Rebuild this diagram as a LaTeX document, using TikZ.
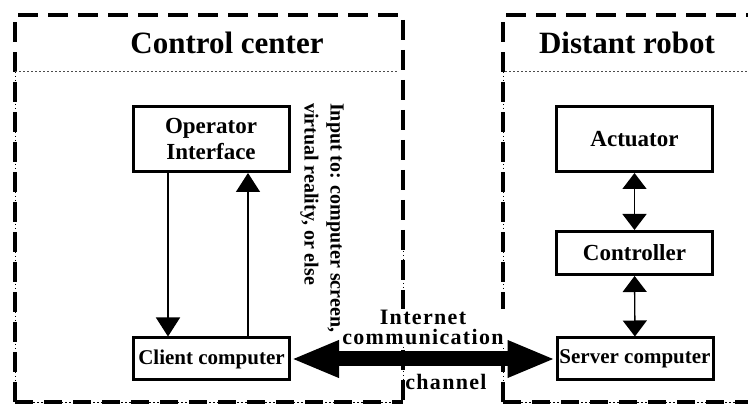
\documentclass[tikz,border=0pt]{standalone}
\usepackage{fontspec}
\setmainfont{Liberation Serif}
\usetikzlibrary{arrows.meta}

\begin{document}
\begin{tikzpicture}[x=1pt,y=-1pt,
  title/.style={font=\fontsize{31}{34}\selectfont\bfseries, inner sep=0pt},
  unit/.style={draw, line width=3pt, font=\fontsize{23}{26}\selectfont\bfseries,
    align=center, inner sep=0pt, minimum width=156pt},
  pcbox/.style={unit, font=\fontsize{21}{24}\selectfont\bfseries, minimum height=42pt},
  heavydash/.style={line width=4pt, dash pattern=on 20pt off 10pt},
  dashdots/.style={line width=4pt, dash pattern=on 18pt off 11pt},
  thindots/.style={line width=0.9pt, dash pattern=on 1.5pt off 2.5pt},
  sepline/.style={line width=0.8pt, dash pattern=on 1.5pt off 2.5pt, black!70},
  flow/.style={line width=1.4pt, -{Triangle[length=19pt 0 0, width=24pt 0 0]}},
  dflow/.style={line width=1.4pt, {Triangle[length=16pt 0 0, width=24pt 0 0]}-{Triangle[length=16pt 0 0, width=24pt 0 0]}},
  link/.style={line width=15pt, {Triangle[length=48pt 0 0, width=34pt 0 0]}-{Triangle[length=48pt 0 0, width=34pt 0 0]}},
  note/.style={font=\fontsize{20}{26}\selectfont\bfseries, inner sep=0pt, align=left},
  chan/.style={font=\fontsize{22}{20}\selectfont\bfseries\addfontfeature{LetterSpace=6}, inner sep=1pt, align=center}
]
\useasboundingbox (0,0) rectangle (748,406);
\fill[white] (0,0) rectangle (748,406);

% corner points of the two frames
\coordinate (ccNW) at (15,15);
\coordinate (ccNE) at (403,15);
\coordinate (ccSE) at (403,402);
\coordinate (ccSW) at (15,402);
\coordinate (rbNW) at (503,15);
\coordinate (rbNE) at (748,15);
\coordinate (rbSW) at (503,402);
\coordinate (rbSE) at (748,402);

% control center frame
\draw[thindots] (ccNW |- 0,72) -- (ccSW) -- (ccSE);
\draw[thindots] (403,235) -- (ccSE);
\draw[heavydash] (ccSW) -- (ccNW) -- (ccNE) -- (ccSE);
\draw[dashdots] (ccSW) -- (ccSE);

% distant robot frame
\draw[thindots] (503,72) -- (rbSW) -- (rbSE);
\draw[heavydash] (rbSW) -- (rbNW) -- (rbNE);
\draw[dashdots] (rbSW) -- (rbSE);

% header separators
\draw[sepline] (15,71) -- (398,71);
\draw[sepline] (505,71) -- (748,71);

% headings
\node[title] (tcc) at (227,43) {Control center};
\node[title] (trb) at (627,43) {Distant robot};

% control center blocks
\node[unit, minimum height=65pt] (oi) at (211,139) {Operator\\Interface};
\node[pcbox] (cc) at (211.5,359) {Client computer};

\draw[flow] (oi.south -| 168,0) -- (cc.north -| 168,0);
\draw[flow] (cc.north -| 248,0) -- (oi.south -| 248,0);

\node[note, rotate=-90, anchor=north west] (inp) at (344,103)
  {Input to: computer screen,\\virtual reality, or else};

% distant robot blocks
\node[unit, minimum height=65pt] (act) at (634.5,139) {Actuator};
\node[unit, minimum height=43pt] (ctl) at (634.5,253) {Controller};
\node[pcbox] (srv) at (635,359) {Server computer};

\draw[dflow] (act) -- (ctl);
\draw[dflow] (ctl) -- (srv);

% internet channel
\node[chan, fill=white] (inet) at (423,327) {Internet\\communication};
\node[chan] (chn) at (446,382) {channel};
\draw[link] (cc.east) -- (srv.west);
\end{tikzpicture}
\end{document}
